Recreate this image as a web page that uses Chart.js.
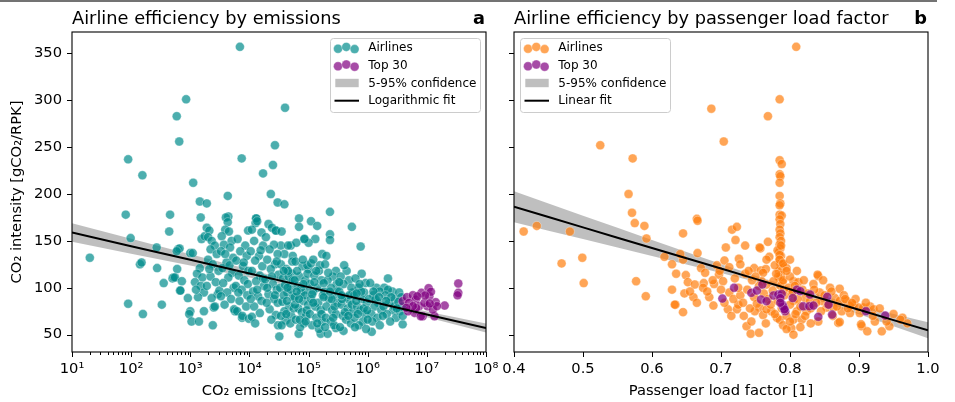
<!DOCTYPE html>
<html><head><meta charset="utf-8">
<script src="https://cdn.jsdelivr.net/npm/chart.js@4.4.0/dist/chart.umd.min.js"></script>
<style>
html,body{margin:0;padding:0;background:#fff;}
#wrap{position:relative;width:955px;height:402px;overflow:hidden;background:#fff;}
#topline{position:absolute;left:0;top:0;width:937px;height:2px;background:#737373;}
canvas{position:absolute;top:0;}
#ca{left:0;width:500px;height:402px;}
#cb{left:500px;width:455px;height:402px;}
</style></head><body>
<div id="wrap"><div id="topline"></div>
<canvas id="ca" width="500" height="402"></canvas>
<canvas id="cb" width="455" height="402"></canvas>
</div>
<script>
// ---------- axis ticks ----------
const xMajorA = [1e1,1e2,1e3,1e4,1e5,1e6,1e7,1e8];
const xLabelsA = ['10¹','10²','10³','10⁴','10⁵','10⁶','10⁷','10⁸'];
const yTicks = [50,100,150,200,250,300,350];
const xTicksB = [0.4,0.5,0.6,0.7,0.8,0.9,1.0];
const xLabelsB = ['0.4','0.5','0.6','0.7','0.8','0.9','1.0'];

// ---------- panel a: CO2 emissions [tCO2] vs CO2 intensity ----------
const airlinesA = [
[6.9e3,357],[850,301],[590,283],[650,256],[89,237],[155,220],[1.12e3,212],[7.4e3,238],[2.7e4,252],[2.5e4,231],
[1.7e4,222],[4.3e3,198],[2.3e4,200],[1.45e3,192],[1.9e3,190],[3.0e4,191],[4.0e4,292],[3.9e4,189],[81,178],[455,178],
[1.5e3,175],[4.4e3,176],[1.3e4,174],[1.27e4,169],[6.9e4,174],[1.1e5,171],[1.4e5,166],[2.3e5,181],[5.4e5,165],[7.6e5,144],
[7.9e5,115],[2.2e6,110],[20,132],[98,153],[141,125],[150,127],[270,143],[275,121],[355,105],[89,83],
[158,72],[330,82],[440,160],[500,110],[520,111],[670,97],[910,89],[1.0e3,75],[960,72],[1.05e3,64],
[1.4e3,64],[1.7e3,75],[2.4e3,60],[2.5e3,79],[5.7e3,75],[7.5e3,68],[3.2e4,48],[6.8e4,51],[1.6e5,51],[2.1e5,51],
[2.9e5,57],[3.9e5,54],[1.17e6,53],[3.9e6,61],
[6.9e4,165],[2.3e5,157],[2.3e5,151],[1.3e5,152],[8.5e4,152],[1.0e5,148],[1.7e5,136],[2.0e5,134],[2.9e5,118],[4.4e5,118],
[2.8e4,161],[3.4e4,145],[5.0e4,145],[6.2e4,148],[3.9e4,136],[5.4e4,134],[7.9e4,123],[1.0e5,120],[5.6e5,95],[8.7e5,95],
[1.4e6,100],[1.9e6,100],[2.6e6,96],
[600,120],[550,111],[720,107],[680,97],[620,141],[660,142],[1.0e3,137],[590,139],
[1.1e3,137],[1.45e3,121],[1.3e3,115],[1.6e3,111],[1.2e3,106],[1.5e3,102],[1.7e3,95],[1.35e3,90],[1.55e3,152],[1.75e3,155],[1.25e3,98],
[1.9e3,164],[2.1e3,161],[2.0e3,154],[2.3e3,150],[2.6e3,145],[2.2e3,141],[2.8e3,136],[2.0e3,130],[2.4e3,125],[3.0e3,118],
[2.2e3,112],[2.7e3,106],[1.9e3,102],[2.9e3,93],[2.3e3,89],[2.6e3,80],[3.1e3,97],[2.1e3,120],
[4.0e3,175],[4.3e3,170],[3.9e3,162],[4.5e3,160],[3.4e3,155],[5.0e3,150],[3.7e3,146],[4.7e3,143],[3.3e3,139],[5.3e3,132],
[4.1e3,127],[3.5e3,121],[5.1e3,116],[4.4e3,111],[3.6e3,105],[5.4e3,100],[4.2e3,95],[3.3e3,91],[4.9e3,88],[3.8e3,82],
[5.5e3,77],[4.6e3,124],[3.9e3,136],
[9.5e3,161],[6.3e3,152],[8.5e3,145],[7.0e3,139],[9.0e3,134],[6.0e3,129],[7.8e3,123],[9.6e3,118],[6.6e3,113],[8.2e3,108],
[5.9e3,102],[7.4e3,98],[9.2e3,92],[6.8e3,86],[8.8e3,80],[6.2e3,75],[7.6e3,70],[9.8e3,67],[8.0e3,127],[6.5e3,95],[9.4e3,104],
[1.3e4,174],[1.35e4,171],[1.1e4,162],[1.6e4,159],[1.2e4,150],[1.7e4,145],[1.05e4,139],[1.45e4,134],[1.25e4,129],[1.65e4,123],
[1.1e4,118],[1.5e4,113],[1.3e4,107],[1.75e4,102],[1.15e4,96],[1.4e4,91],[1.6e4,86],[1.2e4,80],[1.5e4,73],[1.1e4,69],
[1.7e4,110],[1.35e4,98],[1.05e4,88],[1.55e4,140],[1.25e4,62],
[2.1e4,168],[2.4e4,164],[2.8e4,161],[1.9e4,154],[2.6e4,146],[2.2e4,141],[3.0e4,136],[2.0e4,130],[2.7e4,125],[2.3e4,120],
[3.1e4,114],[1.85e4,109],[2.5e4,104],[2.9e4,98],[2.1e4,93],[2.6e4,88],[3.0e4,84],[2.2e4,77],[2.8e4,71],[2.0e4,100],
[2.4e4,112],[2.7e4,92],[1.95e4,84],[2.35e4,66],[3.05e4,60],
[3.5e4,160],[4.5e4,145],[3.4e4,125],[4.2e4,120],[5.2e4,115],[3.7e4,110],[4.8e4,105],[3.3e4,100],[4.4e4,95],[5.5e4,90],
[3.6e4,85],[4.7e4,80],[3.9e4,75],[5.1e4,70],[4.1e4,65],[3.5e4,60],[5.3e4,128],[4.6e4,112],[3.8e4,92],[5.0e4,98],
[4.3e4,86],[5.6e4,78],[3.4e4,70],[4.9e4,62],[4.0e4,103],[5.4e4,108],[4.5e4,118],
[8.5e4,152],[9.5e4,124],[6.0e4,128],[7.0e4,112],[8.8e4,108],[6.5e4,102],[9.2e4,98],[7.4e4,94],[5.8e4,90],[8.1e4,86],
[9.8e4,82],[6.7e4,78],[7.7e4,74],[9.0e4,70],[6.1e4,66],[8.4e4,62],[7.2e4,58],[9.6e4,115],[6.4e4,118],[8.6e4,92],
[7.5e4,100],[5.9e4,82],[9.3e4,76],[6.9e4,88],[8.0e4,130],[7.1e4,66],
[1.1e5,126],[1.5e5,118],[1.25e5,113],[1.65e5,108],[1.05e5,104],[1.4e5,100],[1.2e5,96],[1.75e5,92],[1.1e5,88],[1.45e5,84],
[1.3e5,80],[1.6e5,76],[1.05e5,72],[1.35e5,68],[1.7e5,64],[1.15e5,60],[1.5e5,56],[1.25e5,106],[1.55e5,124],[1.15e5,93],
[1.65e5,72],[1.4e5,62],[1.2e5,130],
[1.9e5,125],[2.6e5,112],[2.1e5,108],[3.0e5,104],[2.4e5,100],[1.85e5,96],[2.8e5,92],[2.2e5,88],[3.1e5,84],[2.0e5,80],
[2.5e5,76],[2.9e5,72],[1.95e5,68],[2.35e5,64],[2.7e5,60],[3.05e5,96],[2.15e5,116],[2.75e5,80],[2.45e5,88],[1.8e5,105],
[3.5e5,112],[4.8e5,108],[3.9e5,104],[5.3e5,100],[3.3e5,96],[4.2e5,90],[5.0e5,86],[3.6e5,82],[4.6e5,78],[5.5e5,74],
[3.8e5,70],[4.3e5,66],[5.2e5,62],[3.4e5,58],[4.0e5,124],[4.9e5,92],[3.7e5,88],[5.4e5,82],[4.1e5,74],
[6.2e5,110],[9.2e5,105],[7.0e5,100],[5.9e5,92],[8.0e5,88],[9.6e5,84],[6.6e5,80],[7.5e5,76],[9.0e5,72],[6.0e5,68],
[8.3e5,64],[7.1e5,60],[9.4e5,56],[6.4e5,86],[8.5e5,78],[7.8e5,96],[6.8e5,72],
[1.1e6,105],[1.6e6,96],[1.25e6,92],[1.05e6,88],[1.5e6,84],[1.3e6,80],[1.7e6,76],[1.15e6,72],[1.45e6,68],[1.2e6,64],
[1.6e6,60],[1.35e6,88],
[2.2e6,98],[2.0e6,92],[2.9e6,88],[2.3e6,84],[1.85e6,80],[2.7e6,76],[2.1e6,72],[3.0e6,68],[2.4e6,64],[2.8e6,80],
[3.4e6,95],[3.7e6,90],[3.3e6,85],[3.8e6,80],[3.5e6,75],[3.9e6,70],
[4.2e4,72],[6.3e4,96],[8.9e4,64],[1.2e5,84],[1.8e5,90],[2.6e5,68],[3.6e5,92],[4.7e5,70],[6.5e5,94],[9.8e5,76],
[1.25e6,96],[1.8e6,70],[2.5e6,90],[3.1e6,78],[5.8e4,108],[1.35e5,118],[3.3e5,106],[7.3e5,104],[4.4e4,100],[2.3e5,96],
[1.0e6,66],[6.1e5,58],[1.9e5,58],[8.2e4,104],[3.8e4,118],[2.9e4,128],[1.55e6,90],[2.05e6,86]
];
const top30A = [
[3.9e6,85.7],[4.6e6,90],[5.8e6,92],[6.5e6,87.5],[8.1e6,94.6],[1.07e7,99.6],[1.1e7,91],[1.17e7,95.7],[1.41e7,84.6],[2.0e7,81],
[7.4e6,80.4],[8.5e6,69.6],[1.35e7,69.6],[6.2e6,73.2],[4.8e6,75],[1.02e7,80.4],[1.26e7,76.8],[9.1e6,83.9],[6.6e6,78.6],[1.48e7,80.4],
[5.0e6,83.9],[9.3e6,91.8],[6.9e6,91],[1.12e7,83.2],[5.8e6,80.4],[4.5e6,78.6],[3.4e7,104.6],[3.4e7,94.6],[3.3e7,92],[7.9e6,69.6]
];
const fitEmissions = [1e1,1e2,1e3,1e4,1e5,1e6,1e7,1e8];
const fitIntensityA = [158.9,144.3,129.8,115.2,100.7,86.2,71.6,57.1];
const bandHighA = [168.7,152.3,135.8,119.4,103.3,88.2,74.7,61.9];
const bandLowA  = [149.1,136.3,123.8,111.0,98.1,84.2,68.5,52.3];

// ---------- panel b: passenger load factor vs CO2 intensity ----------
const airlinesB = [
[0.809,357],[0.785,301],[0.686,291],[0.768,283],[0.704,256],[0.525,252],[0.572,238],
[0.785,236],[0.788,232],[0.785,221],[0.786,219],[0.785,212],[0.785,198],[0.786,190],[0.785,188],[0.785,178],[0.788,177],
[0.785,173],[0.786,168],[0.785,162],[0.786,158],[0.785,154],[0.787,150],[0.785,146],[0.786,142],[0.784,138],[0.787,134],
[0.785,130],[0.786,126],[0.788,122],[0.784,118],[0.787,114],[0.785,110],[0.789,106],[0.786,102],[0.782,140],[0.790,125],
[0.783,112],[0.791,98],[0.787,145],[0.785,135],
[0.566,200],[0.571,180],[0.575,169],[0.589,166],[0.665,173.5],[0.666,171.5],[0.716,162],[0.723,165],[0.645,158],[0.414,160],
[0.433,166],[0.481,160],
[0.469,126],[0.499,132],[0.501,105],[0.577,107],[0.591,91],[0.592,152.5],[0.618,133],[0.629,125],[0.635,115],[0.645,130],
[0.629,98],[0.634,82],[0.645,74],[0.647,94],[0.649,113.5],[0.652,106],[0.662,103.5],[0.666,137],[0.671,121],[0.677,116],
[0.675,105],[0.674,100],[0.683,90],[0.689,81],[0.694,124],[0.697,114],[0.703,107],[0.710,77],[0.723,77],[0.725,82],
[0.721,151],[0.707,143],[0.735,145],[0.726,131],[0.705,129],[0.757,142],[0.768,149],[0.770,133],[0.748,121],[0.758,118.5],
[0.765,120],[0.761,116],
[0.641,136],[0.633,82],[0.733,70],[0.737,59],[0.743,51],[0.755,52],[0.756,143],[0.766,130],[0.759,107],[0.766,103.5],
[0.776,107],[0.795,121],[0.805,107],[0.812,106],[0.805,86],[0.810,75],[0.805,66],[0.802,57],[0.805,50],[0.781,68],
[0.785,66],[0.773,75],[0.756,79],[0.761,71],[0.749,75],[0.744,64],[0.766,77],[0.817,66],[0.824,75],[0.822,89],
[0.829,86],[0.841,112.5],[0.840,114],[0.843,95],[0.841,64],[0.846,86],[0.853,79],[0.870,62.5],[0.872,99],[0.865,89],
[0.872,86],[0.882,86],[0.875,75],[0.887,73],[0.901,73],[0.892,82],[0.899,79],[0.906,79],[0.904,59],[0.912,53.5],
[0.916,80],[0.921,77],[0.923,64],[0.933,53.5],[0.944,59],[0.963,68],[0.887,81],[0.863,79],[0.903,61],[0.872,63.5],
[0.712,95],[0.718,88],[0.728,92],[0.732,84],[0.738,98],[0.742,78],[0.748,90],[0.752,83],[0.755,102],[0.762,94],
[0.768,88],[0.772,82],[0.775,97],[0.778,72],[0.782,86],[0.788,78],[0.792,92],[0.795,70],[0.798,100],[0.800,82],
[0.803,94],[0.808,72],[0.811,88],[0.815,80],[0.818,98],[0.822,70],[0.826,94],[0.830,78],[0.834,104],[0.838,84],
[0.845,75],[0.850,92],[0.855,82],[0.858,100],[0.862,70],[0.868,80],[0.878,92],[0.884,78],[0.895,88],[0.705,84],
[0.715,70],[0.725,100],[0.745,108],[0.765,62],[0.790,60],[0.795,56],[0.800,64],[0.815,58],[0.830,62],[0.700,98],
[0.690,104],[0.720,110],[0.735,115],[0.750,112],[0.780,115],[0.790,108],[0.800,112],[0.810,118],[0.820,108],[0.835,98],
[0.848,108],[0.860,96],[0.880,88],[0.890,84],[0.910,84],[0.930,78],[0.950,72],[0.940,64],[0.960,66],[0.970,62],
[0.920,70],[0.680,96],[0.660,90],[0.665,84],[0.655,96],[0.688,108],[0.698,118],[0.712,122],[0.728,125],[0.740,118],
[0.778,124],[0.785,130],[0.790,126],[0.800,130],[0.795,118],[0.807,102],[0.804,96]
];
const top30B = [
[0.719,100],[0.702,88.5],[0.744,94.6],[0.752,97],[0.760,103.5],[0.758,87.5],[0.766,85.7],[0.776,91.8],[0.783,92.8],[0.788,93.5],
[0.789,82],[0.791,78.6],[0.793,75],[0.790,80],[0.792,77],[0.804,89],[0.810,98],[0.815,96.4],[0.819,80.3],[0.828,80.3],
[0.834,81],[0.829,92.8],[0.854,90.3],[0.856,82],[0.841,69],[0.861,71.4],[0.910,75],[0.938,70.3],[0.786,89],[0.786,84]
];
const fitLoadFactor = [0.40,0.45,0.50,0.55,0.60,0.65,0.70,0.75,0.80,0.85,0.90,0.95,1.00];
const fitIntensityB = [186.4,175.4,164.4,153.4,142.5,131.5,120.5,109.5,98.5,87.5,76.5,65.5,54.6];
const bandHighB = [202.9,189.9,176.9,163.9,151.0,138.1,125.3,112.7,101.0,90.7,81.3,72.1,63.1];
const bandLowB  = [169.9,160.9,151.9,142.9,134.0,124.9,115.7,106.3,96.0,84.3,71.7,58.9,46.1];

// ---------- styling ----------
const FONT = "'DejaVu Sans', sans-serif";
const TEAL = 'rgba(0,139,139,0.7)';
const PURPLE = 'rgba(128,0,128,0.7)';
const ORANGE = 'rgba(255,127,14,0.7)';
const EDGE = 'rgba(255,255,255,0.55)';
const BAND = 'rgba(128,128,128,0.5)';
const R = 4.5;

function pts(arr){ return arr.map(p => ({x:p[0], y:p[1]})); }
function zip(xs, ys){ return xs.map((x,i) => ({x:x, y:ys[i]})); }

function scatterDs(label, arr, color, order){
  return {type:'scatter', label, data:pts(arr), backgroundColor:color, borderColor:EDGE,
          pointRadius:R, pointBorderWidth:0.6, pointHoverRadius:R, order};
}
function datasets(airArr, airColor, topArr, fx, fy, hi, lo, fitLabel){
  return [
    {type:'line', label:fitLabel, data:zip(fx,fy), borderColor:'#000', borderWidth:2, pointRadius:0, fill:false, order:0, tension:0},
    scatterDs('Top 30', topArr, PURPLE, 1),
    scatterDs('Airlines', airArr, airColor, 2),
    {type:'line', label:'5-95% confidence', data:zip(fx,hi), borderWidth:0, borderColor:'rgba(0,0,0,0)', backgroundColor:BAND, pointRadius:0, fill:'+1', order:3, tension:0},
    {type:'line', label:'band low', data:zip(fx,lo), borderWidth:0, borderColor:'rgba(0,0,0,0)', pointRadius:0, fill:false, order:4, tension:0}
  ];
}

function yScale(showLabels){
  return {
    type:'linear', min:31.5, max:372.8,
    afterBuildTicks: s => { s.ticks = yTicks.map(v => ({value:v})); },
    afterFit: s => { s.width = showLabels ? 72 : 14; s.paddingTop = 0; s.paddingBottom = 0; },
    grid:{display:false, drawTicks:false}, border:{display:false},
    ticks:{display:showLabels, font:{family:FONT, size:14.7}, color:'#000', padding:10},
    title: showLabels ? {display:true, text:'CO₂ intensity [gCO₂/RPK]', font:{family:FONT, size:14.7}, color:'#000', padding:{top:8, bottom:0}} : {display:false}
  };
}

function decor(cfg){
  return {
    id:'decor'+cfg.letter,
    afterDraw(chart){
      const ctx = chart.ctx, a = chart.chartArea;
      const xs = chart.scales.x, ys = chart.scales.y;
      ctx.save();
      ctx.strokeStyle = '#000'; ctx.lineWidth = 1;
      ctx.beginPath();
      cfg.xMajor.forEach(v => { const p = Math.round(xs.getPixelForValue(v)) + 0.5; ctx.moveTo(p, a.bottom); ctx.lineTo(p, a.bottom + 5); });
      cfg.xMinor.forEach(v => { const p = Math.round(xs.getPixelForValue(v)) + 0.5; ctx.moveTo(p, a.bottom); ctx.lineTo(p, a.bottom + 3); });
      yTicks.forEach(v => { const p = Math.round(ys.getPixelForValue(v)) + 0.5; ctx.moveTo(a.left, p); ctx.lineTo(a.left - 5, p); });
      ctx.stroke();
      ctx.lineWidth = 1.1;
      ctx.strokeRect(a.left, a.top, a.right - a.left, a.bottom - a.top);
      // titles
      ctx.fillStyle = '#000'; ctx.textBaseline = 'alphabetic';
      ctx.font = '17.8px ' + FONT; ctx.textAlign = 'left';
      ctx.fillText(cfg.title, a.left, 24);
      ctx.font = 'bold 17.8px ' + FONT; ctx.textAlign = 'right';
      ctx.fillText(cfg.letter, a.right - 1, 24);
      // legend
      const L = cfg.legendLeft, T = 38, W = 150, H = 74;
      ctx.beginPath();
      if (ctx.roundRect) ctx.roundRect(L + 0.5, T + 0.5, W, H, 3); else ctx.rect(L + 0.5, T + 0.5, W, H);
      ctx.fillStyle = 'rgba(255,255,255,0.8)'; ctx.fill();
      ctx.strokeStyle = 'rgba(204,204,204,1)'; ctx.lineWidth = 1; ctx.stroke();
      const rowY = [47.7, 65.3, 83, 100.7];
      const mx = [L + 8, L + 16.3, L + 24.6], dy = [1, -0.8, 1.4];
      [cfg.airColor, PURPLE].forEach((col, r) => {
        mx.forEach((x, k) => {
          ctx.beginPath(); ctx.arc(x, rowY[r] + dy[k], R, 0, Math.PI * 2);
          ctx.fillStyle = col; ctx.fill();
          ctx.strokeStyle = EDGE; ctx.lineWidth = 0.6; ctx.stroke();
        });
      });
      ctx.fillStyle = BAND; ctx.fillRect(L + 5.3, rowY[2] - 4.2, 23.4, 8.4);
      ctx.strokeStyle = '#000'; ctx.lineWidth = 2;
      ctx.beginPath(); ctx.moveTo(L + 4.5, rowY[3]); ctx.lineTo(L + 29, rowY[3]); ctx.stroke();
      ctx.fillStyle = '#000'; ctx.font = '12px ' + FONT; ctx.textAlign = 'left'; ctx.textBaseline = 'middle';
      ['Airlines', 'Top 30', '5-95% confidence', cfg.fitLabel].forEach((t, r) => ctx.fillText(t, L + 38.3, rowY[r] + 0.5));
      ctx.restore();
    }
  };
}

const minorA = [];
for (let n = 1; n < 8; n++) for (let k = 2; k <= 9; k++) minorA.push(k * Math.pow(10, n));

const common = {responsive:false, animation:false, events:[],
  plugins:{legend:{display:false}, tooltip:{enabled:false}, title:{display:false}}};

function xFit(s){ s.height = 50; s.paddingLeft = 0; s.paddingRight = 0; }

new Chart(document.getElementById('ca'), {
  type:'scatter',
  data:{datasets:datasets(airlinesA, TEAL, top30A, fitEmissions, fitIntensityA, bandHighA, bandLowA, 'Logarithmic fit')},
  options:Object.assign({}, common, {
    layout:{padding:{top:32, right:14, bottom:0, left:0}},
    scales:{
      x:{type:'logarithmic', min:10, max:1e8,
         afterBuildTicks: s => { s.ticks = xMajorA.map(v => ({value:v})); },
         afterFit: xFit,
         grid:{display:false, drawTicks:false}, border:{display:false},
         ticks:{font:{family:FONT, size:14.7}, color:'#000', padding:8, autoSkip:false, maxRotation:0,
                callback:(v) => { const i = xMajorA.indexOf(v); return i >= 0 ? xLabelsA[i] : ''; }},
         title:{display:true, text:'CO₂ emissions [tCO₂]', font:{family:FONT, size:14.7}, color:'#000', padding:{top:0, bottom:2}}},
      y:yScale(true)
    }
  }),
  plugins:[decor({letter:'a', title:'Airline efficiency by emissions', xMajor:xMajorA, xMinor:minorA, legendLeft:330, airColor:TEAL, fitLabel:'Logarithmic fit'})]
});

new Chart(document.getElementById('cb'), {
  type:'scatter',
  data:{datasets:datasets(airlinesB, ORANGE, top30B, fitLoadFactor, fitIntensityB, bandHighB, bandLowB, 'Linear fit')},
  options:Object.assign({}, common, {
    layout:{padding:{top:32, right:27, bottom:0, left:0}},
    scales:{
      x:{type:'linear', min:0.4, max:1.0,
         afterBuildTicks: s => { s.ticks = xTicksB.map(v => ({value:v})); },
         afterFit: xFit,
         grid:{display:false, drawTicks:false}, border:{display:false},
         ticks:{font:{family:FONT, size:14.7}, color:'#000', padding:8, autoSkip:false, maxRotation:0,
                callback:(v) => { const i = xTicksB.findIndex(t => Math.abs(t - v) < 1e-9); return i >= 0 ? xLabelsB[i] : ''; }},
         title:{display:true, text:'Passenger load factor [1]', font:{family:FONT, size:14.7}, color:'#000', padding:{top:0, bottom:2}}},
      y:yScale(false)
    }
  }),
  plugins:[decor({letter:'b', title:'Airline efficiency by passenger load factor', xMajor:xTicksB, xMinor:[], legendLeft:20, airColor:ORANGE, fitLabel:'Linear fit'})]
});
</script>
</body></html>
